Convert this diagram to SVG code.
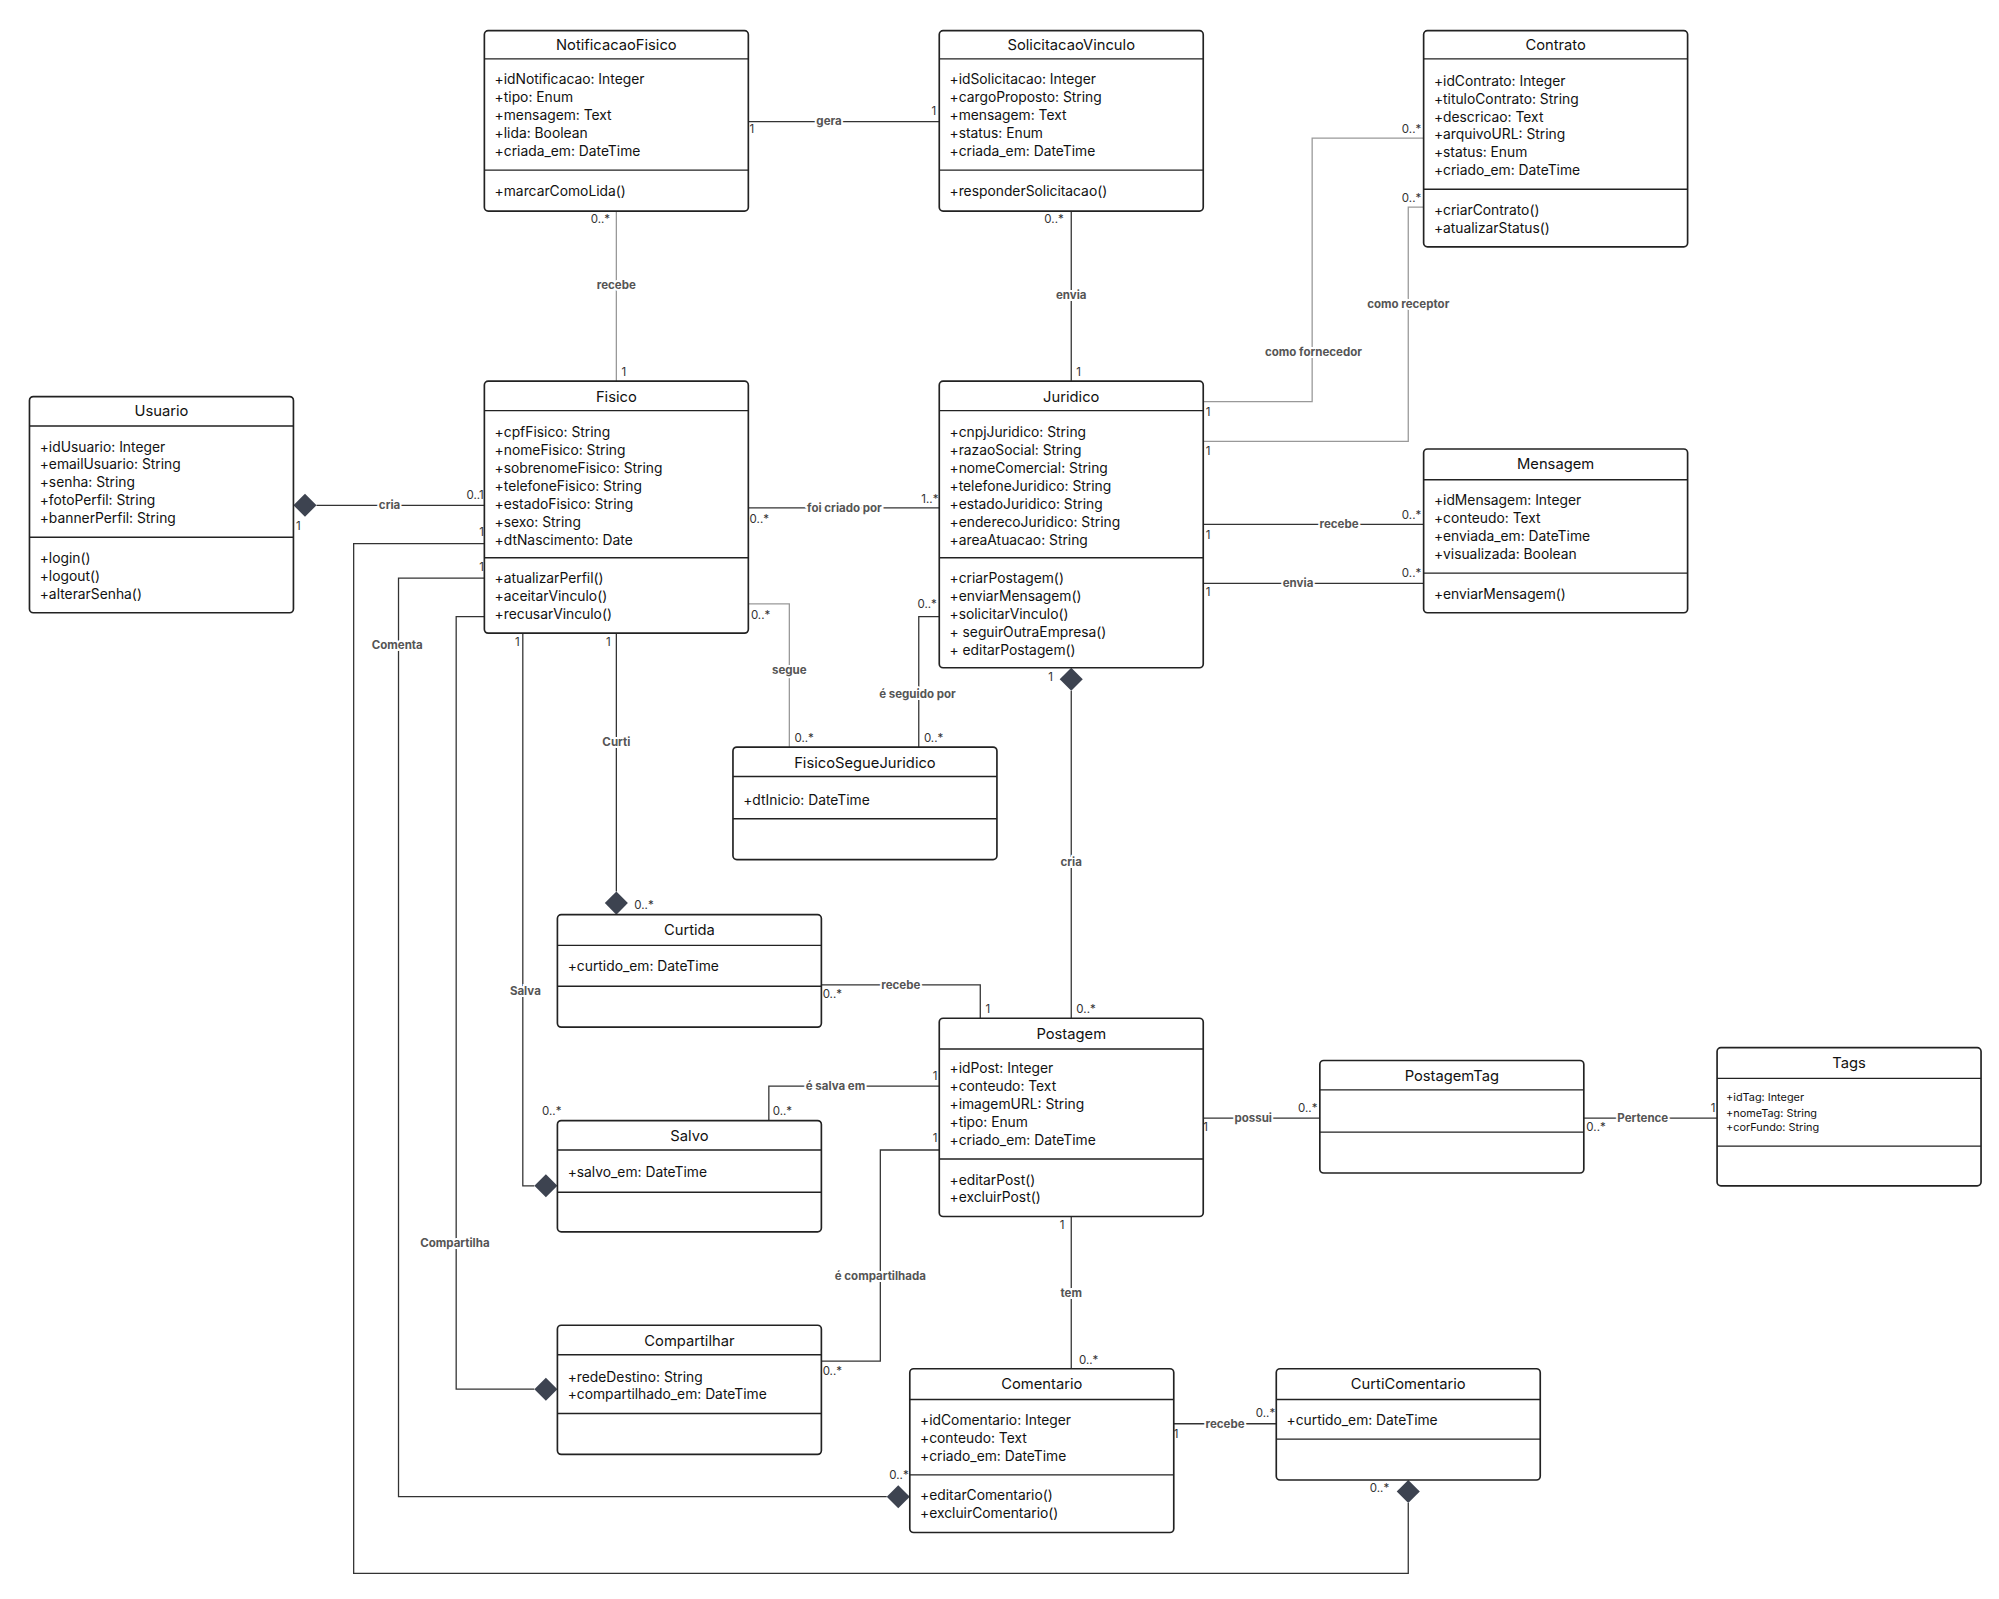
<svg xmlns="http://www.w3.org/2000/svg" width="1999" height="1599" viewBox="0 0 1999 1599">
<style>
.box{fill:#fff;stroke:#222;stroke-width:1.3}
.sep{stroke:#222;stroke-width:1.1}
.t{font-family:Inter,"Liberation Sans",sans-serif;font-size:11.5px;fill:#111;text-anchor:middle}
.a{font-family:Inter,"Liberation Sans",sans-serif;font-size:10.8px;fill:#111}
.s{font-family:Inter,"Liberation Sans",sans-serif;font-size:8.5px;fill:#111}
.ln{fill:none;stroke:#333;stroke-width:1}
.lg{fill:none;stroke:#999;stroke-width:1}
.lb{font-family:Inter,"Liberation Sans",sans-serif;font-size:9px;font-weight:bold;fill:#555;text-anchor:middle;stroke:#fff;stroke-width:3;paint-order:stroke}
.m{font-family:Inter,"Liberation Sans",sans-serif;font-size:9px;fill:#333}
.d{fill:#3d4350}
</style>
<rect width="1999" height="1599" fill="#fff"/>
<g transform="scale(1.2814,1.2792)">
<g id="connectors">
<path class="ln" d="M584,95H733"/><text class="lb" x="647" y="98">gera</text><text class="m" x="585" y="104">1</text><text class="m" x="727" y="90">1</text>
<path class="lg" d="M481,165V298"/><text class="lb" x="481" y="226">recebe</text><text class="m" x="461" y="174">0..*</text><text class="m" x="485" y="294">1</text>
<path class="ln" d="M836,165V298"/><text class="lb" x="836" y="234">envia</text><text class="m" x="815" y="174">0..*</text><text class="m" x="840" y="294">1</text>
<path class="lg" d="M939,314H1024V108H1111"/><text class="lb" x="1025" y="278">como fornecedor</text><text class="m" x="941" y="325">1</text><text class="m" x="1094" y="104">0..*</text>
<path class="lg" d="M939,345H1099V162H1111"/><text class="lb" x="1099" y="241">como receptor</text><text class="m" x="941" y="356">1</text><text class="m" x="1094" y="158">0..*</text>
<path class="ln" d="M939,410H1111"/><text class="lb" x="1045" y="413">recebe</text><text class="m" x="941" y="421">1</text><text class="m" x="1094" y="406">0..*</text>
<path class="ln" d="M939,456H1111"/><text class="lb" x="1013" y="459">envia</text><text class="m" x="941" y="466">1</text><text class="m" x="1094" y="451">0..*</text>
<path class="ln" d="M247,395H378"/><path class="d" d="M229,395L238,386L247,395L238,404Z"/><text class="lb" x="304" y="398">cria</text><text class="m" x="231" y="414">1</text><text class="m" x="364" y="390">0..1</text>
<path class="ln" d="M584,397H733"/><text class="lb" x="659" y="400">foi criado por</text><text class="m" x="585" y="409">0..*</text><text class="m" x="719" y="393">1..*</text>
<path class="lg" d="M584,472H616V584"/><text class="lb" x="616" y="527">segue</text><text class="m" x="586" y="484">0..*</text><text class="m" x="620" y="580">0..*</text>
<path class="ln" d="M733,482H717V584"/><text class="lb" x="716" y="546">é seguido por</text><text class="m" x="716" y="475">0..*</text><text class="m" x="721" y="580">0..*</text>
<path class="ln" d="M481,495V697"/><path class="d" d="M481,697L490,706L481,715L472,706Z"/><text class="lb" x="481" y="583">Curti</text><text class="m" x="473" y="505">1</text><text class="m" x="495" y="711">0..*</text>
<path class="ln" d="M836,540V796"/><path class="d" d="M836,522L845,531L836,540L827,531Z"/><text class="lb" x="836" y="677">cria</text><text class="m" x="818" y="532">1</text><text class="m" x="840" y="792">0..*</text>
<path class="ln" d="M641,770H765V796"/><text class="lb" x="703" y="773">recebe</text><text class="m" x="642" y="780">0..*</text><text class="m" x="769" y="792">1</text>
<path class="ln" d="M408,495V927H417"/><path class="d" d="M417,927L426,918L435,927L426,936Z"/><text class="lb" x="410" y="778">Salva</text><text class="m" x="402" y="505">1</text><text class="m" x="423" y="872">0..*</text>
<path class="ln" d="M600,876V849H733"/><text class="lb" x="652" y="852">é salva em</text><text class="m" x="603" y="872">0..*</text><text class="m" x="728" y="844">1</text>
<path class="ln" d="M641,1064H687V899H733"/><text class="lb" x="687" y="1001">é compartilhada</text><text class="m" x="642" y="1075">0..*</text><text class="m" x="728" y="893">1</text>
<path class="ln" d="M383,482H356V1086H417"/><path class="d" d="M417,1086L426,1077L435,1086L426,1095Z"/><text class="lb" x="355" y="975">Compartilha</text>
<path class="ln" d="M378,452H311V1170H692"/><path class="d" d="M692,1170L701,1161L710,1170L701,1179Z"/><text class="lb" x="310" y="507">Comenta</text><text class="m" x="374" y="446">1</text><text class="m" x="694" y="1156">0..*</text>
<path class="ln" d="M378,425H276V1230H1099V1175"/><path class="d" d="M1099,1157L1108,1166L1099,1175L1090,1166Z"/><text class="m" x="374" y="419">1</text><text class="m" x="1069" y="1166">0..*</text>
<path class="ln" d="M836,951V1070"/><text class="lb" x="836" y="1014">tem</text><text class="m" x="827" y="961">1</text><text class="m" x="842" y="1066">0..*</text>
<path class="ln" d="M916,1113H996"/><text class="lb" x="956" y="1116">recebe</text><text class="m" x="916" y="1124">1</text><text class="m" x="980" y="1108">0..*</text>
<path class="ln" d="M939,874H1030"/><text class="lb" x="978" y="877">possui</text><text class="m" x="939" y="884">1</text><text class="m" x="1013" y="869">0..*</text>
<path class="ln" d="M1236,874H1340"/><text class="lb" x="1282" y="877">Pertence</text><text class="m" x="1238" y="884">0..*</text><text class="m" x="1335" y="869">1</text>
</g>

<g id="NotificacaoFisico"><rect class="box" x="378" y="24" width="206" height="141" rx="3"/><path class="sep" d="M378,46H584M378,133H584"/><text class="t" x="481" y="39">NotificacaoFisico</text>
<text class="a" x="386" y="66">+idNotificacao: Integer</text><text class="a" x="386" y="80">+tipo: Enum</text><text class="a" x="386" y="94">+mensagem: Text</text><text class="a" x="386" y="108">+lida: Boolean</text><text class="a" x="386" y="122">+criada_em: DateTime</text><text class="a" x="386" y="153">+marcarComoLida()</text></g>

<g id="SolicitacaoVinculo"><rect class="box" x="733" y="24" width="206" height="141" rx="3"/><path class="sep" d="M733,46H939M733,133H939"/><text class="t" x="836" y="39">SolicitacaoVinculo</text>
<text class="a" x="741" y="66">+idSolicitacao: Integer</text><text class="a" x="741" y="80">+cargoProposto: String</text><text class="a" x="741" y="94">+mensagem: Text</text><text class="a" x="741" y="108">+status: Enum</text><text class="a" x="741" y="122">+criada_em: DateTime</text><text class="a" x="741" y="153">+responderSolicitacao()</text></g>

<g id="Contrato"><rect class="box" x="1111" y="24" width="206" height="169" rx="3"/><path class="sep" d="M1111,46H1317M1111,148H1317"/><text class="t" x="1214" y="39">Contrato</text>
<text class="a" x="1119" y="67">+idContrato: Integer</text><text class="a" x="1119" y="81">+tituloContrato: String</text><text class="a" x="1119" y="95">+descricao: Text</text><text class="a" x="1119" y="109">+arquivoURL: String</text><text class="a" x="1119" y="123">+status: Enum</text><text class="a" x="1119" y="137">+criado_em: DateTime</text><text class="a" x="1119" y="168">+criarContrato()</text><text class="a" x="1119" y="182">+atualizarStatus()</text></g>

<g id="Usuario"><rect class="box" x="23" y="310" width="206" height="169" rx="3"/><path class="sep" d="M23,333H229M23,420H229"/><text class="t" x="126" y="325">Usuario</text>
<text class="a" x="31" y="353">+idUsuario: Integer</text><text class="a" x="31" y="367">+emailUsuario: String</text><text class="a" x="31" y="381">+senha: String</text><text class="a" x="31" y="395">+fotoPerfil: String</text><text class="a" x="31" y="409">+bannerPerfil: String</text><text class="a" x="31" y="440">+login()</text><text class="a" x="31" y="454">+logout()</text><text class="a" x="31" y="468">+alterarSenha()</text></g>

<g id="Fisico"><rect class="box" x="378" y="298" width="206" height="197" rx="3"/><path class="sep" d="M378,321H584M378,436H584"/><text class="t" x="481" y="314">Fisico</text>
<text class="a" x="386" y="342">+cpfFisico: String</text><text class="a" x="386" y="356">+nomeFisico: String</text><text class="a" x="386" y="370">+sobrenomeFisico: String</text><text class="a" x="386" y="384">+telefoneFisico: String</text><text class="a" x="386" y="398">+estadoFisico: String</text><text class="a" x="386" y="412">+sexo: String</text><text class="a" x="386" y="426">+dtNascimento: Date</text><text class="a" x="386" y="456">+atualizarPerfil()</text><text class="a" x="386" y="470">+aceitarVinculo()</text><text class="a" x="386" y="484">+recusarVinculo()</text></g>

<g id="Juridico"><rect class="box" x="733" y="298" width="206" height="224" rx="3"/><path class="sep" d="M733,321H939M733,436H939"/><text class="t" x="836" y="314">Juridico</text>
<text class="a" x="741" y="342">+cnpjJuridico: String</text><text class="a" x="741" y="356">+razaoSocial: String</text><text class="a" x="741" y="370">+nomeComercial: String</text><text class="a" x="741" y="384">+telefoneJuridico: String</text><text class="a" x="741" y="398">+estadoJuridico: String</text><text class="a" x="741" y="412">+enderecoJuridico: String</text><text class="a" x="741" y="426">+areaAtuacao: String</text><text class="a" x="741" y="456">+criarPostagem()</text><text class="a" x="741" y="470">+enviarMensagem()</text><text class="a" x="741" y="484">+solicitarVinculo()</text><text class="a" x="741" y="498">+ seguirOutraEmpresa()</text><text class="a" x="741" y="512">+ editarPostagem()</text></g>

<g id="Mensagem"><rect class="box" x="1111" y="351" width="206" height="128" rx="3"/><path class="sep" d="M1111,375H1317M1111,448H1317"/><text class="t" x="1214" y="367">Mensagem</text>
<text class="a" x="1119" y="395">+idMensagem: Integer</text><text class="a" x="1119" y="409">+conteudo: Text</text><text class="a" x="1119" y="423">+enviada_em: DateTime</text><text class="a" x="1119" y="437">+visualizada: Boolean</text><text class="a" x="1119" y="468">+enviarMensagem()</text></g>

<g id="FisicoSegueJuridico"><rect class="box" x="572" y="584" width="206" height="88" rx="3"/><path class="sep" d="M572,607H778M572,640H778"/><text class="t" x="675" y="600">FisicoSegueJuridico</text><text class="a" x="580" y="629">+dtInicio: DateTime</text></g>

<g id="Curtida"><rect class="box" x="435" y="715" width="206" height="88" rx="3"/><path class="sep" d="M435,739H641M435,771H641"/><text class="t" x="538" y="731">Curtida</text><text class="a" x="443" y="759">+curtido_em: DateTime</text></g>

<g id="Postagem"><rect class="box" x="733" y="796" width="206" height="155" rx="3"/><path class="sep" d="M733,820H939M733,906H939"/><text class="t" x="836" y="812">Postagem</text>
<text class="a" x="741" y="839">+idPost: Integer</text><text class="a" x="741" y="853">+conteudo: Text</text><text class="a" x="741" y="867">+imagemURL: String</text><text class="a" x="741" y="881">+tipo: Enum</text><text class="a" x="741" y="895">+criado_em: DateTime</text><text class="a" x="741" y="926">+editarPost()</text><text class="a" x="741" y="940">+excluirPost()</text></g>

<g id="PostagemTag"><rect class="box" x="1030" y="829" width="206" height="88" rx="3"/><path class="sep" d="M1030,852H1236M1030,885H1236"/><text class="t" x="1133" y="845">PostagemTag</text></g>

<g id="Tags"><rect class="box" x="1340" y="819" width="206" height="108" rx="3"/><path class="sep" d="M1340,843H1546M1340,896H1546"/><text class="t" x="1443" y="835">Tags</text>
<text class="s" x="1347" y="861">+idTag: Integer</text><text class="s" x="1347" y="873">+nomeTag: String</text><text class="s" x="1347" y="884">+corFundo: String</text></g>

<g id="Salvo"><rect class="box" x="435" y="876" width="206" height="87" rx="3"/><path class="sep" d="M435,899H641M435,932H641"/><text class="t" x="538" y="892">Salvo</text><text class="a" x="443" y="920">+salvo_em: DateTime</text></g>

<g id="Compartilhar"><rect class="box" x="435" y="1036" width="206" height="101" rx="3"/><path class="sep" d="M435,1059H641M435,1105H641"/><text class="t" x="538" y="1052">Compartilhar</text><text class="a" x="443" y="1080">+redeDestino: String</text><text class="a" x="443" y="1094">+compartilhado_em: DateTime</text></g>

<g id="Comentario"><rect class="box" x="710" y="1070" width="206" height="128" rx="3"/><path class="sep" d="M710,1094H916M710,1153H916"/><text class="t" x="813" y="1086">Comentario</text>
<text class="a" x="718" y="1114">+idComentario: Integer</text><text class="a" x="718" y="1128">+conteudo: Text</text><text class="a" x="718" y="1142">+criado_em: DateTime</text><text class="a" x="718" y="1173">+editarComentario()</text><text class="a" x="718" y="1187">+excluirComentario()</text></g>

<g id="CurtiComentario"><rect class="box" x="996" y="1070" width="206" height="87" rx="3"/><path class="sep" d="M996,1094H1202M996,1125H1202"/><text class="t" x="1099" y="1086">CurtiComentario</text><text class="a" x="1004" y="1114">+curtido_em: DateTime</text></g>
</g>
</svg>
